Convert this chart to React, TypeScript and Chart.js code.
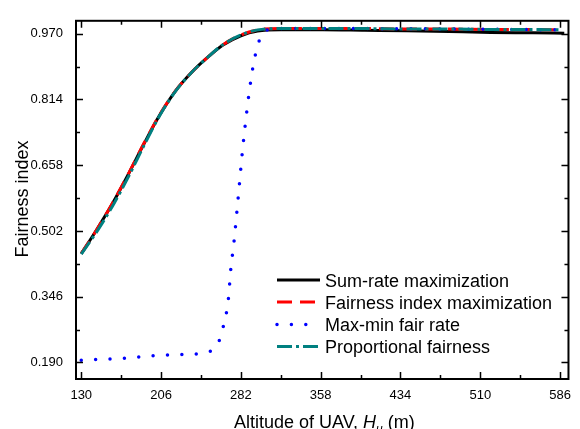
import React, { useEffect, useRef } from 'react';
import { Chart, registerables } from 'chart.js';

Chart.register(...registerables);

// ---- Data ----
const xTicks = [130, 206, 282, 358, 434, 510, 586];
const yTicks = [0.19, 0.346, 0.502, 0.658, 0.814, 0.97];

const seriesLabels = [
  'Sum-rate maximization',
  'Fairness index maximization',
  'Max-min fair rate',
  'Proportional fairness',
];

const sumRateX = [130, 145, 160, 175, 190, 205, 220, 235, 250, 265, 282, 298, 320, 360, 400, 440, 480, 520, 560, 590];
const sumRateY = [0.448, 0.506, 0.568, 0.637, 0.710, 0.778, 0.835, 0.878, 0.913, 0.943, 0.965, 0.976, 0.979, 0.979, 0.978, 0.977, 0.975, 0.973, 0.972, 0.971];

const fairIdxX = [130, 145, 160, 175, 190, 205, 220, 235, 250, 265, 282, 298, 320, 360, 400, 440, 480, 520, 560, 586];
const fairIdxY = [0.448, 0.506, 0.569, 0.638, 0.711, 0.779, 0.835, 0.878, 0.913, 0.944, 0.967, 0.979, 0.982, 0.982, 0.982, 0.981, 0.981, 0.980, 0.980, 0.979];

const maxMinX = [130, 144, 171, 198, 224, 251, 256, 261, 265, 270, 272.4, 275.5, 279.3, 284, 290.3, 294.4, 297.5, 302, 310, 320, 400, 480, 586];
const maxMinY = [0.195, 0.197, 0.2, 0.206, 0.2085, 0.2147, 0.222, 0.239, 0.2725, 0.338, 0.411, 0.477, 0.577, 0.7035, 0.838, 0.9035, 0.936, 0.969, 0.98, 0.982, 0.982, 0.981, 0.979];

const propFairX = [130, 145, 160, 175, 190, 205, 220, 235, 250, 265, 282, 298, 320, 360, 400, 440, 480, 520, 560, 586];
const propFairY = [0.447, 0.501, 0.562, 0.631, 0.706, 0.777, 0.834, 0.878, 0.913, 0.944, 0.967, 0.979, 0.982, 0.982, 0.982, 0.981, 0.981, 0.980, 0.980, 0.979];

// ---- Styles ----
const FONT = "'Liberation Sans', Arial, sans-serif";
const styles = [
  { color: '#000000', width: 3, dash: [] as number[], cap: 'butt' as CanvasLineCap, order: 4 },
  { color: '#ff0000', width: 3, dash: [15, 8], cap: 'butt' as CanvasLineCap, order: 3 },
  { color: '#0000ff', width: 3.5, dash: [0, 14.4], cap: 'round' as CanvasLineCap, order: 2 },
  { color: '#008080', width: 3, dash: [15, 4, 3, 4], cap: 'butt' as CanvasLineCap, order: 1 },
];

const pts = (xs: number[], ys: number[]) => xs.map((x, i) => ({ x, y: ys[i] }));

const decorPlugin = {
  id: 'decor',
  afterDatasetsDraw(chart: any) {
    const { ctx, chartArea: a, scales } = chart;
    const xs = scales.x;
    const ys = scales.y;
    ctx.save();
    ctx.strokeStyle = '#000';
    ctx.setLineDash([]);

    // ticks (inward, all four sides)
    const xMinor = xTicks.slice(0, -1).map((v, i) => (v + xTicks[i + 1]) / 2);
    const yMinor = yTicks.slice(0, -1).map((v, i) => (v + yTicks[i + 1]) / 2);
    ctx.lineWidth = 1.5;
    const drawX = (v: number, len: number) => {
      const px = Math.round(xs.getPixelForValue(v)) + 0.5;
      ctx.beginPath();
      ctx.moveTo(px, a.bottom);
      ctx.lineTo(px, a.bottom - len);
      ctx.moveTo(px, a.top);
      ctx.lineTo(px, a.top + len);
      ctx.stroke();
    };
    const drawY = (v: number, len: number) => {
      const py = Math.round(ys.getPixelForValue(v)) + 0.5;
      ctx.beginPath();
      ctx.moveTo(a.left, py);
      ctx.lineTo(a.left + len, py);
      ctx.moveTo(a.right, py);
      ctx.lineTo(a.right - len, py);
      ctx.stroke();
    };
    xTicks.forEach((v) => drawX(v, 7));
    xMinor.forEach((v) => drawX(v, 4));
    yTicks.forEach((v) => drawY(v, 7));
    yMinor.forEach((v) => drawY(v, 4));

    // frame
    ctx.lineWidth = 2;
    ctx.strokeRect(a.left, a.top, a.right - a.left, a.bottom - a.top);

    // legend
    const rowY = [280, 302, 324.5, 346.5];
    const order = [0, 1, 2, 3];
    order.forEach((i, r) => {
      const st = styles[i];
      const y = rowY[r];
      ctx.save();
      ctx.strokeStyle = st.color;
      ctx.lineWidth = st.width;
      ctx.lineCap = st.cap;
      ctx.setLineDash(st.dash);
      ctx.beginPath();
      ctx.moveTo(277, y);
      ctx.lineTo(st.cap === 'round' ? 318 : 320, y);
      ctx.stroke();
      ctx.restore();
      ctx.fillStyle = '#000';
      ctx.font = `18px ${FONT}`;
      ctx.textAlign = 'left';
      ctx.textBaseline = 'alphabetic';
      ctx.fillText(seriesLabels[i], 325, y + 6.5);
    });

    // y title
    ctx.save();
    ctx.translate(28, 199);
    ctx.rotate(-Math.PI / 2);
    ctx.font = `18px ${FONT}`;
    ctx.textAlign = 'center';
    ctx.textBaseline = 'alphabetic';
    ctx.fillStyle = '#000';
    ctx.fillText('Fairness index', 0, 0);
    ctx.restore();

    // x title with italic H and subscript u
    ctx.fillStyle = '#000';
    ctx.textAlign = 'left';
    ctx.textBaseline = 'alphabetic';
    let x = 234;
    const base = 427.5;
    ctx.font = `18px ${FONT}`;
    const p1 = 'Altitude of UAV, ';
    ctx.fillText(p1, x, base);
    x += ctx.measureText(p1).width;
    ctx.font = `italic 18px ${FONT}`;
    ctx.fillText('H', x, base);
    x += ctx.measureText('H').width;
    ctx.font = `italic 12px ${FONT}`;
    ctx.fillText('u', x, base + 5);
    x += ctx.measureText('u').width;
    ctx.font = `18px ${FONT}`;
    ctx.fillText(' (m)', x, base);

    ctx.restore();
  },
};

export default function App() {
  const ref = useRef<HTMLCanvasElement | null>(null);
  useEffect(() => {
    if (!ref.current) return;
    const seriesData = [
      pts(sumRateX, sumRateY),
      pts(fairIdxX, fairIdxY),
      pts(maxMinX, maxMinY),
      pts(propFairX, propFairY),
    ];
    const chart = new Chart(ref.current, {
      type: 'line',
      data: {
        datasets: seriesData.map((d, i) => ({
          label: seriesLabels[i],
          data: d,
          borderColor: styles[i].color,
          backgroundColor: styles[i].color,
          borderWidth: styles[i].width,
          borderDash: styles[i].dash,
          borderCapStyle: styles[i].cap,
          pointRadius: 0,
          fill: false,
          cubicInterpolationMode: 'monotone' as const,
          order: styles[i].order,
        })),
      },
      options: {
        animation: false,
        responsive: true,
        maintainAspectRatio: false,
        devicePixelRatio: 1,
        layout: { padding: { left: 0, right: 5, top: 11, bottom: 0 } },
        plugins: { legend: { display: false }, tooltip: { enabled: false }, title: { display: false } },
        scales: {
          x: {
            type: 'linear',
            min: 125,
            max: 594,
            afterBuildTicks: (s: any) => {
              s.ticks = xTicks.map((v) => ({ value: v }));
            },
            afterFit: (s: any) => {
              s.height = 50;
            },
            grid: { display: false, drawTicks: false },
            border: { display: false },
            ticks: {
              autoSkip: false,
              maxRotation: 0,
              padding: 9,
              color: '#000',
              font: { family: FONT, size: 13 },
              callback: (v: any) => String(v),
            },
          },
          y: {
            type: 'linear',
            min: 0.1507,
            max: 1.0005,
            afterBuildTicks: (s: any) => {
              s.ticks = yTicks.map((v) => ({ value: v }));
            },
            afterFit: (s: any) => {
              s.width = 76;
            },
            grid: { display: false, drawTicks: false },
            border: { display: false },
            ticks: {
              autoSkip: false,
              padding: 13,
              color: '#000',
              font: { family: FONT, size: 13 },
              callback: (v: any) => Number(v).toFixed(3),
            },
          },
        },
      },
      plugins: [decorPlugin],
    });
    return () => chart.destroy();
  }, []);

  return (
    <div style={{ position: 'fixed', left: 0, top: 0, width: 580, height: 429, background: '#fff' }}>
      <canvas ref={ref} />
    </div>
  );
}
